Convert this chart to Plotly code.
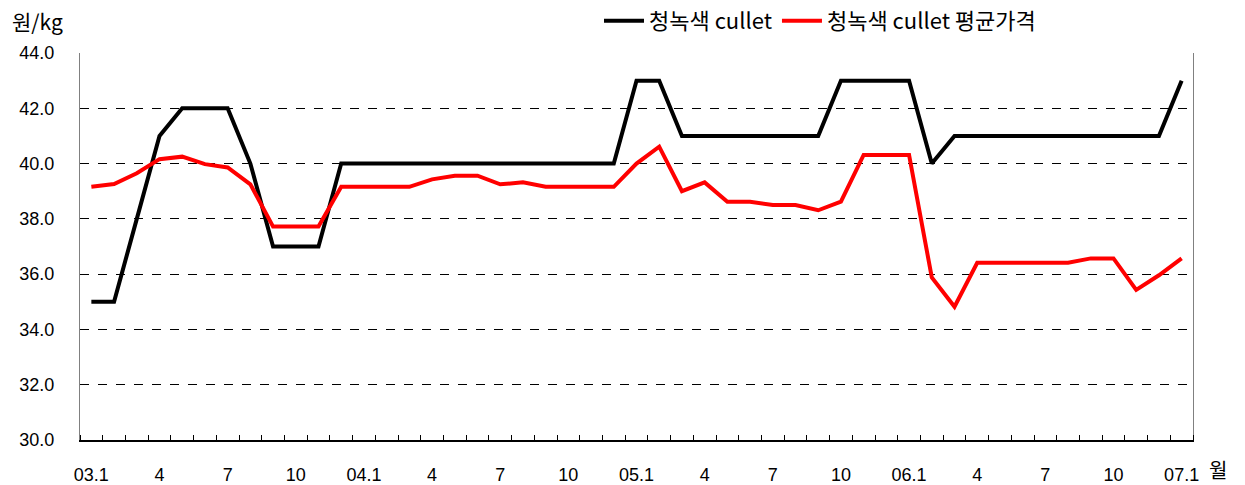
import plotly.graph_objects as go

months = [f"{y:02d}.{m}" for y in range(3, 8) for m in range(1, 13)][:49]
tick_labels = ["03.1", "4", "7", "10", "04.1", "4", "7", "10", "05.1", "4", "7", "10",
               "06.1", "4", "7", "10", "07.1"]

cullet = [35, 35, 38, 41, 42, 42, 42, 40, 37, 37, 37,
          40, 40, 40, 40, 40, 40, 40, 40, 40, 40, 40, 40, 40,
          43, 43,
          41, 41, 41, 41, 41, 41, 41,
          43, 43, 43, 43,
          40,
          41, 41, 41, 41, 41, 41, 41, 41, 41, 41,
          43]

avg_price = [39.16, 39.26, 39.65, 40.16, 40.25, 39.98, 39.86, 39.25, 37.72, 37.72, 37.72,
             39.16, 39.16, 39.16, 39.16, 39.43, 39.56, 39.56, 39.25, 39.32, 39.16, 39.16,
             39.16, 39.16, 40.0, 40.61, 39.0, 39.32, 38.62, 38.62, 38.5, 38.5, 38.31,
             38.62, 40.31, 40.31, 40.31, 35.88, 34.82, 36.41, 36.41, 36.41, 36.41, 36.41,
             36.57, 36.57, 35.43, 35.96, 36.57]

x = list(range(len(months)))
tick_idx = list(range(0, 49, 3))

FONT = "Liberation Sans, Arial, Noto Sans CJK KR"
KFONT = "Noto Sans CJK KR, Liberation Sans"

W, H = 1245, 485
L, R, T, B = 80, 52, 53, 45
pw, ph = W - L - R, H - T - B

fig = go.Figure()
fig.add_trace(go.Scatter(x=x, y=cullet, mode="lines", name="청녹색 cullet",
                         line=dict(color="black", width=4), text=months))
fig.add_trace(go.Scatter(x=x, y=avg_price, mode="lines", name="청녹색 cullet 평균가격",
                         line=dict(color="#ff0000", width=4), text=months))

fig.update_layout(
    width=W, height=H,
    margin=dict(l=L, r=R, t=T, b=B, autoexpand=False),
    plot_bgcolor="white", paper_bgcolor="white",
    font=dict(family=FONT, size=18, color="black"),
    showlegend=True,
    legend=dict(orientation="h", xref="container", x=(597 + 2) / W, xanchor="left",
                yref="container", y=1 - 21 / H, yanchor="middle",
                font=dict(family=KFONT, size=22), itemwidth=40,
                bgcolor="rgba(0,0,0,0)"),
    xaxis=dict(
        range=[-0.5, 48.5], tickmode="array", tickvals=tick_idx, ticktext=tick_labels,
        ticks="", showgrid=False, zeroline=False, automargin=False,
        showline=True, linecolor="black", linewidth=2,
        ticklabelstandoff=17,
        minor=dict(tickmode="linear", tick0=-0.5, dtick=1, ticks="inside",
                   ticklen=5, tickcolor="black", tickwidth=1, showgrid=False),
        fixedrange=True,
    ),
    yaxis=dict(
        range=[30, 44], tickmode="array", tickvals=[30, 32, 34, 36, 38, 40, 42, 44],
        ticktext=["30.0", "32.0", "34.0", "36.0", "38.0", "40.0", "42.0", "44.0"],
        showgrid=True, gridcolor="black", griddash="dash", gridwidth=1, automargin=False,
        zeroline=False, showline=True, linecolor="#808080", linewidth=1, mirror=True,
        ticks="", ticklabelstandoff=21, fixedrange=True,
    ),
    annotations=[
        dict(text="원/kg", x=(10 - L) / pw, y=(H - B - 21) / ph, xref="paper", yref="paper",
             showarrow=False, xanchor="left", yanchor="middle",
             font=dict(family=KFONT, size=21)),
        dict(text="월", x=(1218 - L) / pw, y=(H - B - 469) / ph, xref="paper", yref="paper",
             showarrow=False, xanchor="center", yanchor="middle", borderpad=0,
             font=dict(family=KFONT, size=20)),
    ],
)

fig.write_html("out.html", config={"displayModeBar": False},
               post_script="document.body.style.margin='0';document.body.style.overflow='hidden';")
